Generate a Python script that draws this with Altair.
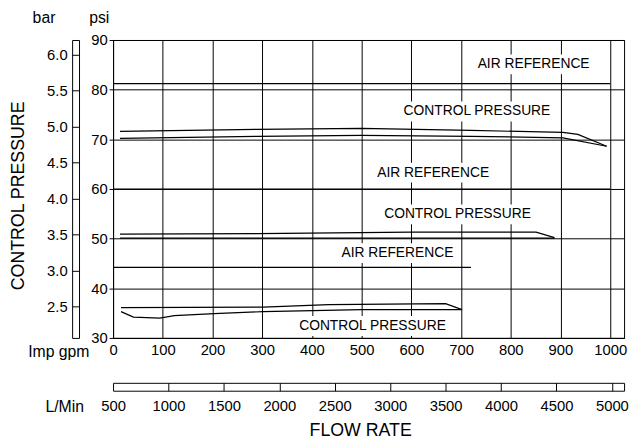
import altair as alt
import pandas as pd

# ---------------- data (flow in Imp gpm, pressure in psi) ----------------
air_top_gpm = [0, 1000]
air_top_psi = [81.2, 81.2]
air_mid_gpm = [0, 1000]
air_mid_psi = [60.0, 60.0]
air_low_gpm = [0, 720]
air_low_psi = [44.2, 44.2]

ctrl_top_up_gpm = [14, 290, 500, 720, 905, 935, 993]
ctrl_top_up_psi = [71.6, 72.0, 72.2, 71.8, 71.4, 71.0, 68.6]
ctrl_top_lo_gpm = [14, 290, 500, 720, 905, 993]
ctrl_top_lo_psi = [70.2, 70.6, 70.8, 70.6, 70.3, 68.6]

ctrl_mid_up_gpm = [14, 290, 600, 851, 888]
ctrl_mid_up_psi = [50.9, 51.0, 51.3, 51.3, 50.2]
ctrl_mid_lo_gpm = [14, 888]
ctrl_mid_lo_psi = [50.1, 50.1]

ctrl_low_up_gpm = [16, 302, 434, 669, 702]
ctrl_low_up_psi = [36.1, 36.2, 36.7, 36.9, 35.7]
ctrl_low_lo_gpm = [16, 41, 94, 123, 203, 302, 500, 702]
ctrl_low_lo_psi = [35.3, 34.2, 34.0, 34.5, 34.9, 35.3, 35.7, 35.7]

label_text = ["AIR REFERENCE", "CONTROL PRESSURE", "AIR REFERENCE",
              "CONTROL PRESSURE", "AIR REFERENCE", "CONTROL PRESSURE"]
label_gpm = [846, 732, 644, 693, 572, 522]
label_psi = [85.1, 75.6, 63.3, 54.9, 47.1, 32.4]

gpm_ticks = [0, 100, 200, 300, 400, 500, 600, 700, 800, 900, 1000]
psi_ticks = [30, 40, 50, 60, 70, 80, 90]
bar_ticks = [2.5, 3.0, 3.5, 4.0, 4.5, 5.0, 5.5, 6.0]
lmin_ticks = [500, 1000, 1500, 2000, 2500, 3000, 3500, 4000, 4500, 5000]

GPM_MAX = 1028
PSI_MIN, PSI_MAX = 30, 90
PSI_PER_BAR = 14.5038
BAR_MIN, BAR_MAX = PSI_MIN / PSI_PER_BAR, PSI_MAX / PSI_PER_BAR
LMIN_MIN, LMIN_MAX = 500, 5110

FONT = "Liberation Sans"

series = [
    ("air_top", air_top_gpm, air_top_psi),
    ("air_mid", air_mid_gpm, air_mid_psi),
    ("air_low", air_low_gpm, air_low_psi),
    ("ctrl_top_up", ctrl_top_up_gpm, ctrl_top_up_psi),
    ("ctrl_top_lo", ctrl_top_lo_gpm, ctrl_top_lo_psi),
    ("ctrl_mid_up", ctrl_mid_up_gpm, ctrl_mid_up_psi),
    ("ctrl_mid_lo", ctrl_mid_lo_gpm, ctrl_mid_lo_psi),
    ("ctrl_low_up", ctrl_low_up_gpm, ctrl_low_up_psi),
    ("ctrl_low_lo", ctrl_low_lo_gpm, ctrl_low_lo_psi),
]
rows = []
for name, xs, ys in series:
    for i, (xv, yv) in enumerate(zip(xs, ys)):
        rows.append({"series": name, "idx": i, "gpm": xv, "psi": yv})
curves = pd.DataFrame(rows)
labels = pd.DataFrame({"label": label_text, "gpm": label_gpm, "psi": label_psi})

# ---------------- main scales / axes ----------------
x_enc = alt.X(
    "gpm:Q",
    scale=alt.Scale(domain=[0, GPM_MAX], nice=False, zero=False),
    axis=alt.Axis(
        values=gpm_ticks, format="d", grid=True, gridColor="black", gridWidth=1,
        ticks=False, tickSize=0, labelPadding=5, labelFontSize=15,
        labelFlush=False, labelOverlap=False, domain=True,
        title="Imp gpm", titleX=-55.5, titleY=13.5, titleAngle=0,
        titleAlign="center", titleBaseline="middle", titleFontSize=16,
    ),
)
y_enc = alt.Y(
    "psi:Q",
    scale=alt.Scale(domain=[PSI_MIN, PSI_MAX], nice=False, zero=False),
    axis=alt.Axis(
        values=psi_ticks, format="d", grid=True, gridColor="black", gridWidth=1,
        tickSize=4, labelPadding=2, labelFontSize=15,
        labelFlush=False, labelOverlap=False,
        title="psi", titleX=-14.5, titleY=-22.5, titleAngle=0,
        titleAlign="center", titleBaseline="middle", titleFontSize=16,
    ),
)

lines = alt.Chart(curves).mark_line(color="black", strokeWidth=1.2).encode(
    x=x_enc, y=y_enc, detail="series:N", order="idx:Q"
)

box_air = alt.Chart(labels).transform_filter(
    alt.datum.label == "AIR REFERENCE"
).mark_point(
    shape="M-1,-0.164L1,-0.164L1,0.164L-1,0.164Z", size=122 * 122,
    filled=True, color="white", opacity=1, strokeWidth=0,
).encode(x=x_enc, y=y_enc)

box_ctrl = alt.Chart(labels).transform_filter(
    alt.datum.label == "CONTROL PRESSURE"
).mark_point(
    shape="M-1,-0.127L1,-0.127L1,0.127L-1,0.127Z", size=158 * 158,
    filled=True, color="white", opacity=1, strokeWidth=0,
).encode(x=x_enc, y=y_enc)

texts = alt.Chart(labels).mark_text(
    font=FONT, fontSize=14, color="black", align="center", baseline="middle"
).encode(x=x_enc, y=y_enc, text="label:N")

main = alt.layer(lines, box_air, box_ctrl, texts)

# ---------------- bar (pressure) scale drawn as a slim box ----------------
bar_scale = alt.Scale(domain=[BAR_MIN, BAR_MAX], nice=False, zero=False)
bar_a = alt.Chart(pd.DataFrame({"bar": [BAR_MIN, BAR_MAX]})).mark_point(opacity=0).encode(
    y=alt.Y(
        "bar:Q", scale=bar_scale,
        axis=alt.Axis(
            orient="left", offset=34.5, values=[BAR_MIN] + bar_ticks + [BAR_MAX],
            labelExpr="datum.value < 2.3 || datum.value > 6.1 ? '' : format(datum.value, '.1f')",
            tickSize=7, labelPadding=5, labelFontSize=15, grid=False,
            labelFlush=False, labelOverlap=False, domain=True,
            title="bar", titleX=-36, titleY=-22.5, titleAngle=0,
            titleAlign="center", titleBaseline="middle", titleFontSize=16,
        ),
    )
)
bar_b = alt.Chart(pd.DataFrame({"bar2": [BAR_MIN, BAR_MAX]})).mark_point(opacity=0).encode(
    y=alt.Y(
        "bar2:Q", scale=bar_scale,
        axis=alt.Axis(
            orient="left", offset=41.5, ticks=False, labels=False, grid=False,
            domain=True,
            title="CONTROL PRESSURE", titleX=-54.5, titleY=157.5, titleAngle=270,
            titleAlign="center", titleBaseline="middle", titleFontSize=18,
        ),
    )
)

# ---------------- L/Min flow scale drawn as a slim box ----------------
lmin_scale = alt.Scale(domain=[LMIN_MIN, LMIN_MAX], nice=False, zero=False)
lmin_a = alt.Chart(pd.DataFrame({"lmin": [LMIN_MIN, LMIN_MAX]})).mark_point(opacity=0).encode(
    x=alt.X(
        "lmin:Q", scale=lmin_scale,
        axis=alt.Axis(
            orient="bottom", offset=45.5, values=lmin_ticks + [LMIN_MAX],
            labelExpr="datum.value > 5050 ? '' : format(datum.value, 'd')",
            tickSize=8, labelPadding=8, labelFontSize=15, grid=False,
            labelFlush=False, labelOverlap=False, domain=True,
            title="L/Min", titleX=-49.5, titleY=24, titleAngle=0,
            titleAlign="center", titleBaseline="middle", titleFontSize=16,
        ),
    )
)
lmin_b = alt.Chart(pd.DataFrame({"lmin2": [LMIN_MIN, LMIN_MAX]})).mark_point(opacity=0).encode(
    x=alt.X(
        "lmin2:Q", scale=lmin_scale,
        axis=alt.Axis(
            orient="bottom", offset=53.5, ticks=False, labels=False, grid=False,
            domain=True,
            title="FLOW RATE", titleX=250.5, titleY=40, titleAngle=0,
            titleAlign="center", titleBaseline="middle", titleFontSize=18,
        ),
    )
)

chart = alt.layer(main, bar_a, bar_b, lmin_a, lmin_b).resolve_scale(
    x="independent", y="independent"
).resolve_axis(
    x="independent", y="independent"
).properties(
    width=518, height=302,
    autosize=alt.AutoSizeParams(type="none"),
    padding={"left": 106.5, "top": 29.5, "right": 6, "bottom": 99},
    background="white",
).configure_view(
    stroke="black", strokeWidth=1
).configure_axis(
    labelFont=FONT, titleFont=FONT, labelColor="black", titleColor="black",
    domainColor="black", tickColor="black", titleFontWeight="normal",
    domainWidth=1, tickWidth=1,
)

chart.save("out.html", embed_options={"renderer": "svg", "actions": False})
